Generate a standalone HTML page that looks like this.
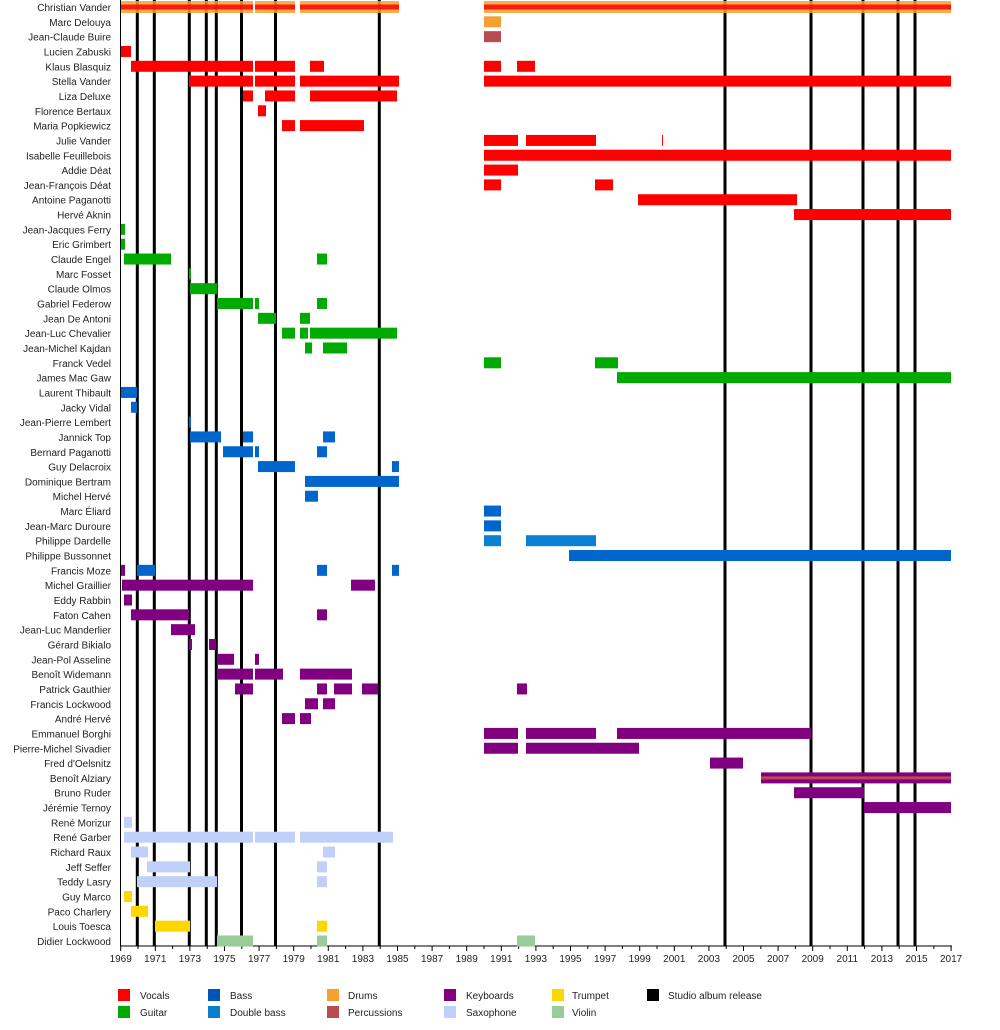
<!DOCTYPE html>
<html><head><meta charset="utf-8"><style>
body{margin:0;background:#fff;}
svg text{font-family:"Liberation Sans",sans-serif;font-size:10px;fill:#222;}
</style></head><body>
<svg id="s" width="1000" height="1025" xmlns="http://www.w3.org/2000/svg">
<g id="lines"></g>
<g id="bars"></g>
<g text-anchor="end">
<text x="111" y="11">Christian Vander</text>
<text x="111" y="25.8">Marc Delouya</text>
<text x="111" y="40.6">Jean-Claude Buire</text>
<text x="111" y="55.5">Lucien Zabuski</text>
<text x="111" y="70.3">Klaus Blasquiz</text>
<text x="111" y="85.1">Stella Vander</text>
<text x="111" y="100">Liza Deluxe</text>
<text x="111" y="114.8">Florence Bertaux</text>
<text x="111" y="129.6">Maria Popkiewicz</text>
<text x="111" y="144.4">Julie Vander</text>
<text x="111" y="159.3">Isabelle Feuillebois</text>
<text x="111" y="174.1">Addie Déat</text>
<text x="111" y="188.9">Jean-François Déat</text>
<text x="111" y="203.7">Antoine Paganotti</text>
<text x="111" y="218.6">Hervé Aknin</text>
<text x="111" y="233.4">Jean-Jacques Ferry</text>
<text x="111" y="248.2">Eric Grimbert</text>
<text x="111" y="263">Claude Engel</text>
<text x="111" y="277.9">Marc Fosset</text>
<text x="111" y="292.7">Claude Olmos</text>
<text x="111" y="307.5">Gabriel Federow</text>
<text x="111" y="322.3">Jean De Antoni</text>
<text x="111" y="337.2">Jean-Luc Chevalier</text>
<text x="111" y="352">Jean-Michel Kajdan</text>
<text x="111" y="366.8">Franck Vedel</text>
<text x="111" y="381.6">James Mac Gaw</text>
<text x="111" y="396.5">Laurent Thibault</text>
<text x="111" y="411.3">Jacky Vidal</text>
<text x="111" y="426.1">Jean-Pierre Lembert</text>
<text x="111" y="440.9">Jannick Top</text>
<text x="111" y="455.8">Bernard Paganotti</text>
<text x="111" y="470.6">Guy Delacroix</text>
<text x="111" y="485.4">Dominique Bertram</text>
<text x="111" y="500.2">Michel Hervé</text>
<text x="111" y="515.1">Marc Éliard</text>
<text x="111" y="529.9">Jean-Marc Duroure</text>
<text x="111" y="544.7">Philippe Dardelle</text>
<text x="111" y="559.5">Philippe Bussonnet</text>
<text x="111" y="574.4">Francis Moze</text>
<text x="111" y="589.2">Michel Graillier</text>
<text x="111" y="604">Eddy Rabbin</text>
<text x="111" y="618.8">Faton Cahen</text>
<text x="111" y="633.7">Jean-Luc Manderlier</text>
<text x="111" y="648.5">Gérard Bikialo</text>
<text x="111" y="663.3">Jean-Pol Asseline</text>
<text x="111" y="678.1">Benoît Widemann</text>
<text x="111" y="693">Patrick Gauthier</text>
<text x="111" y="707.8">Francis Lockwood</text>
<text x="111" y="722.6">André Hervé</text>
<text x="111" y="737.4">Emmanuel Borghi</text>
<text x="111" y="752.3">Pierre-Michel Sivadier</text>
<text x="111" y="767.1">Fred d'Oelsnitz</text>
<text x="111" y="781.9">Benoît Alziary</text>
<text x="111" y="796.7">Bruno Ruder</text>
<text x="111" y="811.6">Jérémie Ternoy</text>
<text x="111" y="826.4">René Morizur</text>
<text x="111" y="841.2">René Garber</text>
<text x="111" y="856">Richard Raux</text>
<text x="111" y="870.9">Jeff Seffer</text>
<text x="111" y="885.7">Teddy Lasry</text>
<text x="111" y="900.5">Guy Marco</text>
<text x="111" y="915.3">Paco Charlery</text>
<text x="111" y="930.2">Louis Toesca</text>
<text x="111" y="945">Didier Lockwood</text>
</g>
<g text-anchor="middle">
<text x="120.7" y="962">1969</text><text x="155.3" y="962">1971</text><text x="189.9" y="962">1973</text><text x="224.5" y="962">1975</text><text x="259.1" y="962">1977</text><text x="293.7" y="962">1979</text><text x="328.3" y="962">1981</text><text x="362.9" y="962">1983</text><text x="397.5" y="962">1985</text><text x="432.1" y="962">1987</text><text x="466.7" y="962">1989</text><text x="501.3" y="962">1991</text><text x="535.9" y="962">1993</text><text x="570.5" y="962">1995</text><text x="605.1" y="962">1997</text><text x="639.7" y="962">1999</text><text x="674.3" y="962">2001</text><text x="708.9" y="962">2003</text><text x="743.5" y="962">2005</text><text x="778.1" y="962">2007</text><text x="812.7" y="962">2009</text><text x="847.3" y="962">2011</text><text x="881.9" y="962">2013</text><text x="916.5" y="962">2015</text><text x="951.1" y="962">2017</text>
</g>
<g>
<rect x="118" y="989" width="12" height="12" fill="#ff0000"/><text x="140" y="999">Vocals</text>
<rect x="208" y="989" width="12" height="12" fill="#0055bb"/><text x="230" y="999">Bass</text>
<rect x="327" y="989" width="12" height="12" fill="#f5a030"/><text x="348" y="999">Drums</text>
<rect x="444" y="989" width="12" height="12" fill="#800080"/><text x="466" y="999">Keyboards</text>
<rect x="552" y="989" width="12" height="12" fill="#ffd700"/><text x="572" y="999">Trumpet</text>
<rect x="647" y="989" width="12" height="12" fill="#000"/><text x="668" y="999">Studio album release</text>
<rect x="118" y="1006" width="12" height="12" fill="#00aa00"/><text x="140" y="1016">Guitar</text>
<rect x="208" y="1006" width="12" height="12" fill="#0a7fd0"/><text x="230" y="1016">Double bass</text>
<rect x="327" y="1006" width="12" height="12" fill="#b84c50"/><text x="348" y="1016">Percussions</text>
<rect x="444" y="1006" width="12" height="12" fill="#c0d0f8"/><text x="466" y="1016">Saxophone</text>
<rect x="552" y="1006" width="12" height="12" fill="#99cc99"/><text x="572" y="1016">Violin</text>
</g>
</svg>
<script>
var C={v:"#ff0000",g:"#00aa00",b:"#0066cc",d:"#0a80d0",dr:"#f5a030",p:"#b84c50",k:"#800080",s:"#c0d0f8",t:"#ffd700",vi:"#99cc99"};
var R=[
["v",[[121,253],[255,295],[300,399],[484,951]]],
["dr",[[484,501]]],["p",[[484,501]]],
["v",[[121,131]]],
["v",[[131,253],[255,295],[310,324],[484,501],[517,535]]],
["v",[[189,253],[255,295],[300,399],[484,951]]],
["v",[[243,253],[265,295],[310,397]]],
["v",[[258,266]]],
["v",[[282,295],[300,364]]],
["v",[[484,518],[526,596],[662,663]]],
["v",[[484,951]]],["v",[[484,518]]],["v",[[484,501],[595,613]]],
["v",[[638,797]]],["v",[[794,951]]],
["g",[[121,125]]],["g",[[121,125]]],["g",[[124,171],[317,327]]],["g",[[189,191]]],["g",[[190,217]]],
["g",[[217,253],[255,259],[317,327]]],["g",[[258,276],[300,310]]],["g",[[282,295],[300,308],[310,397]]],
["g",[[305,312],[323,347]]],["g",[[484,501],[595,618]]],["g",[[617,951]]],
["b",[[121,137]]],["b",[[131,137]]],["b",[[189,191]]],["b",[[190,221],[243,253],[323,335]]],
["b",[[223,253],[255,259],[317,327]]],["b",[[258,295],[392,399]]],["b",[[305,399]]],["b",[[305,318]]],
["b",[[484,501]]],["b",[[484,501]]],["d",[[484,501],[526,596]]],["b",[[569,951]]],
["b",[[137,155],[317,327],[392,399]]],
["k",[[122,253],[351,375]]],["k",[[124,132]]],["k",[[131,189],[317,327]]],["k",[[171,195]]],
["k",[[189,192],[209,216]]],["k",[[217,234],[255,259]]],["k",[[217,253],[255,283],[300,352]]],
["k",[[235,253],[317,327],[334,352],[362,378],[517,527]]],["k",[[305,318],[323,335]]],["k",[[282,295],[300,311]]],
["k",[[484,518],[526,596],[617,811]]],["k",[[484,518],[526,639]]],["k",[[710,743]]],["k",[[761,951]]],
["k",[[794,864]]],["k",[[864,951]]],
["s",[[124,132]]],["s",[[124,253],[255,295],[300,393]]],["s",[[131,148],[323,335]]],["s",[[147,190],[317,327]]],
["s",[[137,190],[190,217],[317,327]]],
["t",[[124,132]]],["t",[[131,148]]],["t",[[155,190],[317,327]]],
["vi",[[217,253],[317,327],[517,535]]]
];
var ns="http://www.w3.org/2000/svg",B=document.getElementById("bars"),L=document.getElementById("lines");
function r(g,x,y,w,h,f,o){var e=document.createElementNS(ns,"rect");e.setAttribute("x",x);e.setAttribute("y",y);e.setAttribute("width",w);e.setAttribute("height",h);e.setAttribute("fill",f);if(o)e.setAttribute("fill-opacity",o);g.appendChild(e);}
R.forEach(function(row,i){var c=7+i*14.825;row[1].forEach(function(s){
 if(i==0){r(B,s[0],c-6,s[1]-s[0],12,C.dr,0.85);r(B,s[0],c-2.5,s[1]-s[0],5,C.v,0.85);}
 else{r(B,s[0],c-5.5,s[1]-s[0],11,C[row[0]]);}
 if(i==52){r(B,s[0],c-1.5,s[1]-s[0],3,C.p);}
});});
r(B,121,7+38*14.825-5.5,4,11,C.k);
[137.3,154.3,189.3,206.3,216.3,241.5,275.5,379.3,725,811,863,898,915].forEach(function(x){r(L,x-1.5,0,3,946,"#000");});
r(L,120,0,1,946,"#000");r(L,120,945.5,832,1,"#000");
for(var y=0;y<=48;y++){r(L,120.2+y*17.3,946,1,y%2?3:5,"#000");}
</script>
</body></html>
